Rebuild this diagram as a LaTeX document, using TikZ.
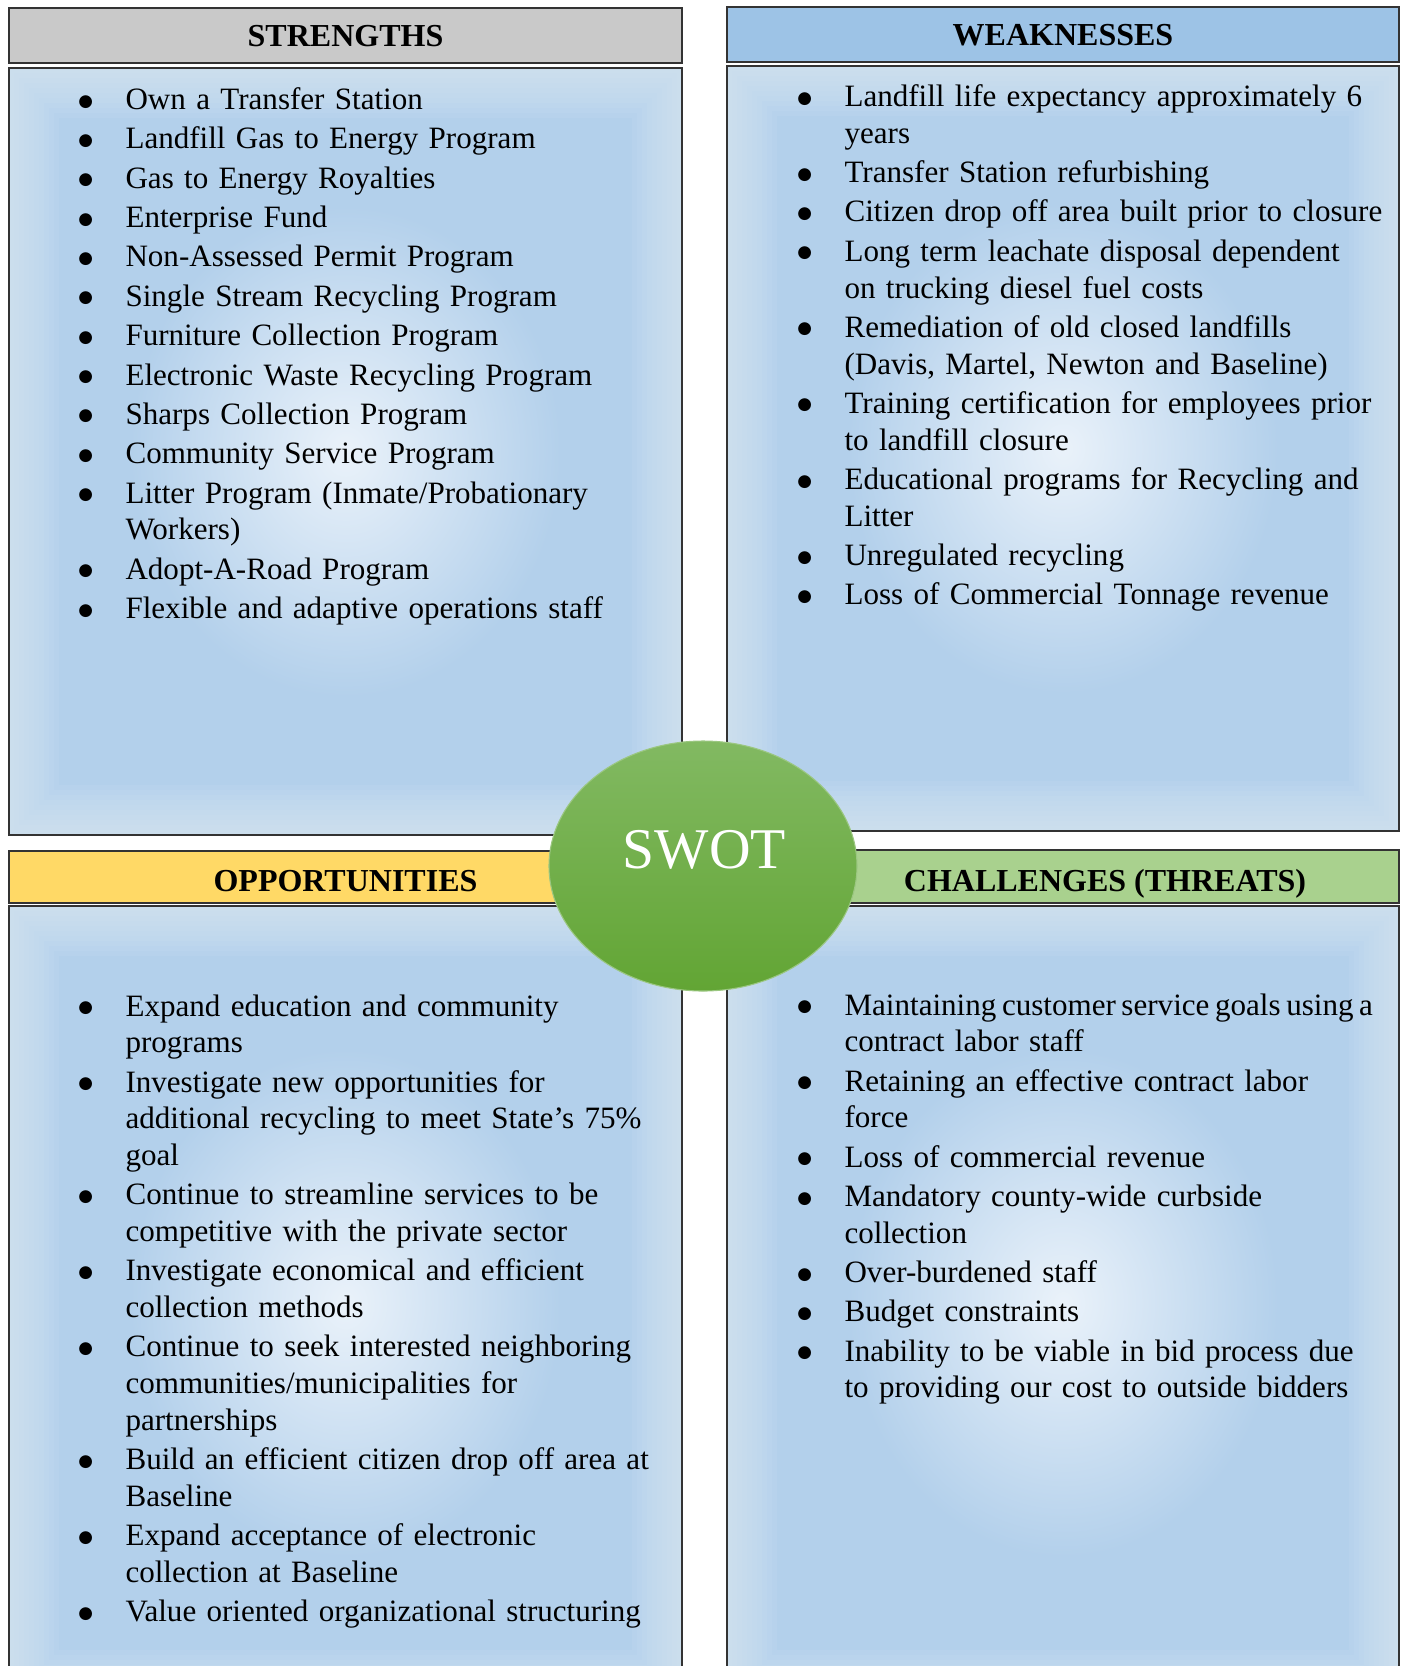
\documentclass[tikz,border=0pt]{standalone}
\usepackage{fontspec}
\setmainfont{Liberation Serif}
\newfontfamily\dotfont{DejaVu Sans}

\definecolor{hdgray}{HTML}{C9C9C9}
\definecolor{hdblue}{HTML}{9DC3E6}
\definecolor{hdyellow}{HTML}{FFD966}
\definecolor{hdgreen}{HTML}{A9D18E}
\definecolor{bodyblue}{HTML}{B3D0EB}
\definecolor{bodyglow}{HTML}{EAF2FA}
\definecolor{bodyedge}{HTML}{DDEAF6}
\definecolor{swottop}{HTML}{82B962}
\definecolor{swotbot}{HTML}{62A534}

\pgfdeclareradialshading{bodyshade}{\pgfpoint{0bp}{0bp}}{color(0bp)=(bodyglow); color(16bp)=(bodyblue); color(50bp)=(bodyblue)}

\newenvironment{swotlist}{\begin{list}{\strut\raisebox{1.3pt}{\dotfont\fontsize{6.3pt}{7pt}\selectfont ●}}{%
  \setlength\leftmargin{17.25pt}\setlength\labelsep{12.2pt}\setlength\labelwidth{8pt}%
  \setlength\itemsep{1pt}\setlength\parsep{0pt}\setlength\topsep{0pt}\setlength\partopsep{0pt}}}%
  {\end{list}}

\tikzset{
  frame/.style={draw=black!80, line width=0.55pt},
  headtext/.style={font=\fontsize{12pt}{13.8pt}\selectfont\bfseries, inner sep=0pt, text height=7.9pt, text depth=0pt},
  listtext/.style={anchor=north west, inner sep=0pt, text width=240pt, align=left, font=\fontsize{11.65pt}{13.76pt}\selectfont},
  swottext/.style={font=\fontsize{21.6pt}{26pt}\selectfont, text=white, inner sep=0pt, text height=14.3pt, text depth=0pt}
}

\begin{document}
\begin{tikzpicture}[x=0.375pt, y=-0.375pt]
	\useasboundingbox (0,0) rectangle (1406,1666);
	\clip (0,0) rectangle (1406,1666);

	% bodies
	\foreach \xa/\ya/\xb/\yb in {9/68/682/835, 727/66/1399/831, 9/906/682/1700, 727/906/1399/1700}{
		\begin{scope}
			\clip (\xa,\ya) rectangle (\xb,\yb);
			\shade[shading=bodyshade] (\xa,\ya) rectangle (\xb,\yb);
			\foreach \w in {10,20,...,100}
				\draw[bodyedge, opacity=0.1, line width=\w*0.375pt] (\xa,\ya) rectangle (\xb,\yb);
		\end{scope}
		\draw[frame] (\xa,\ya) rectangle (\xb,\yb);
	}

	% headers
	\foreach \xa/\ya/\xb/\yb/\c in {9/8/682/63/hdgray, 727/7/1399/62/hdblue, 9/851/682/903/hdyellow, 727/850/1399/903/hdgreen}
		\draw[frame, fill=\c] (\xa,\ya) rectangle (\xb,\yb);

	\node[headtext] (strtitle) at (345.5,35.5) {STRENGTHS};
	\node[headtext] (wktitle) at (1063,34.5) {WEAKNESSES};
	\node[headtext] (optitle) at (345.5,881) {OPPORTUNITIES};
	\node[headtext] (chtitle) at (1105,881) {CHALLENGES (THREATS)};

	\shade[top color=swottop, bottom color=swotbot, draw=swottop!80!white, line width=0.4pt] (703,866) ellipse (154 and 125);
	\node[swottext] (swot) at (704.5,849) {SWOT};

	\node[listtext] (strlist) at (79,72.3) {\begin{swotlist}
		\item Own a Transfer Station
		\item Landfill Gas to Energy Program
		\item Gas to Energy Royalties
		\item Enterprise Fund
		\item Non-Assessed Permit Program
		\item Single Stream Recycling Program
		\item Furniture Collection Program
		\item Electronic Waste Recycling Program
		\item Sharps Collection Program
		\item Community Service Program
		\item Litter Program (Inmate/Probationary\\ Workers)
		\item Adopt-A-Road Program
		\item Flexible and adaptive operations staff
	\end{swotlist}};

	\node[listtext] (wklist) at (798,69.3) {\begin{swotlist}
		\item Landfill life expectancy approximately 6\\ years
		\item Transfer Station refurbishing
		\item Citizen drop off area built prior to closure
		\item Long term leachate disposal dependent\\ on trucking diesel fuel costs
		\item Remediation of old closed landfills\\ (Davis, Martel, Newton and Baseline)
		\item Training certification for employees prior\\ to landfill closure
		\item Educational programs for Recycling and\\ Litter
		\item Unregulated recycling
		\item Loss of Commercial Tonnage revenue
	\end{swotlist}};

	\node[listtext] (oplist) at (79,978.8) {\begin{swotlist}
		\item Expand education and community\\ programs
		\item Investigate new opportunities for\\ additional recycling to meet State’s 75\%\\ goal
		\item Continue to streamline services to be\\ competitive with the private sector
		\item Investigate economical and efficient\\ collection methods
		\item Continue to seek interested neighboring\\ communities/municipalities for\\ partnerships
		\item Build an efficient citizen drop off area at\\ Baseline
		\item Expand acceptance of electronic\\ collection at Baseline
		\item Value oriented organizational structuring
	\end{swotlist}};

	\node[listtext] (chlist) at (798,977.8) {\begin{swotlist}
		\item {\spaceskip=2.1pt Maintaining customer service goals using a}\\ contract labor staff
		\item Retaining an effective contract labor\\ force
		\item Loss of commercial revenue
		\item Mandatory county-wide curbside\\ collection
		\item Over-burdened staff
		\item Budget constraints
		\item Inability to be viable in bid process due\\ to providing our cost to outside bidders
	\end{swotlist}};
\end{tikzpicture}
\end{document}
